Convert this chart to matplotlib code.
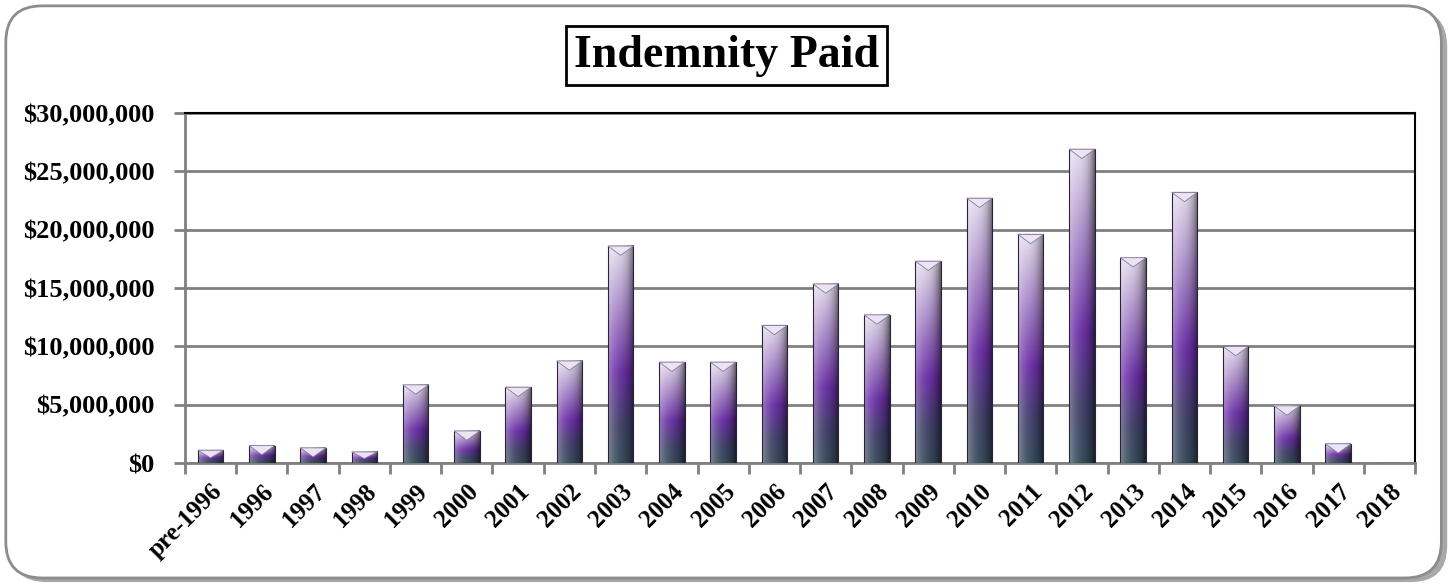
import numpy as np
import matplotlib
matplotlib.use("Agg")
import matplotlib.pyplot as plt
from matplotlib.colors import LinearSegmentedColormap
from matplotlib.patches import FancyBboxPatch, Polygon
from matplotlib.ticker import FuncFormatter, MultipleLocator

# ── data ───────────────────────────────────────────────────────────
years = ["pre-1996", "1996", "1997", "1998", "1999", "2000", "2001", "2002",
         "2003", "2004", "2005", "2006", "2007", "2008", "2009", "2010",
         "2011", "2012", "2013", "2014", "2015", "2016", "2017", "2018"]
paid_millions = [1.1, 1.5, 1.3, 0.95, 6.7, 2.75, 6.5, 8.75,
                 18.6, 8.65, 8.65, 11.8, 15.35, 12.7, 17.3, 22.7,
                 19.6, 26.9, 17.6, 23.2, 10.0, 4.9, 1.65, 0.0]
paid = [v * 1e6 for v in paid_millions]

plt.rcParams["font.family"] = ["Liberation Serif", "DejaVu Serif"]

fig = plt.figure(figsize=(14.53, 5.85), dpi=100)

# ── outer rounded frame with shadow ───────────────────────────────
shadow = FancyBboxPatch((0.007, 0.005), 0.989, 0.978,
                        boxstyle="round,pad=0,rounding_size=0.025",
                        transform=fig.transFigure, fc="#a8a8a8", ec="none",
                        mutation_aspect=1453 / 585, zorder=-3)
frame = FancyBboxPatch((0.004, 0.012), 0.988, 0.978,
                       boxstyle="round,pad=0,rounding_size=0.025",
                       transform=fig.transFigure, fc="white", ec="#8c8c8c",
                       lw=2.0, mutation_aspect=1453 / 585, zorder=-2)
fig.patches.extend([shadow, frame])

ax = fig.add_axes([0.1273, 0.2085, 0.8466, 0.5983])
ax.set_facecolor("none")

x = np.arange(len(years))
width = 0.5
bars = ax.bar(x, paid, width=width, color="none", edgecolor="#2b2438",
              linewidth=0.8, zorder=4)

# gradient fill for each bar
cmap = LinearSegmentedColormap.from_list(
    "bar", [(0.0, "#34495a"), (0.18, "#3f3f68"), (0.42, "#6a2da6"),
            (0.65, "#9a74c0"), (1.0, "#e6dfee")])
ny, nx = 200, 40
v = np.linspace(0, 1, ny)[:, None]
s = np.linspace(0, 1, nx)[None, :]
base = cmap(v)[..., :3] * np.ones((ny, nx, 1))
light = (1 - base) * 0.35 * ((1 - s) ** 3)[..., None]
dark = base * 0.55 * (s ** 4)[..., None]
grad = np.clip(base + light - dark, 0, 1)

tri_depth = 0.8e6
for b in bars:
    h = b.get_height()
    if h <= 0:
        continue
    x0, w = b.get_x(), b.get_width()
    ax.imshow(grad, extent=[x0, x0 + w, 0, h], origin="lower",
              aspect="auto", zorder=3, interpolation="bilinear")
    d = min(tri_depth, h * 0.6)
    tri = Polygon([(x0, h), (x0 + w, h), (x0 + w / 2, h - d)],
                  closed=True, fc="#ebe4f3", ec="#8a7aa0", lw=0.6, zorder=4)
    ax.add_patch(tri)

ax.set_xlim(-0.5, len(years) - 0.5)
ax.set_ylim(0, 30e6)

# gridlines and spines
ax.yaxis.set_major_locator(MultipleLocator(5e6))
ax.yaxis.set_major_formatter(FuncFormatter(lambda v, p: f"${v:,.0f}"))
ax.grid(axis="y", color="#808080", linewidth=2, zorder=1)
ax.set_axisbelow(True)
for side in ("left", "bottom"):
    ax.spines[side].set_color("#808080")
    ax.spines[side].set_linewidth(2)
for side in ("top", "right"):
    ax.spines[side].set_color("black")
    ax.spines[side].set_linewidth(1.5)

ax.set_xticks(x)
ax.set_xticklabels(years, rotation=45, ha="right", rotation_mode="anchor",
                   fontsize=18, fontweight="bold")
ax.tick_params(axis="x", which="major", length=0, pad=12)
ax.set_xticks(np.arange(-0.5, len(years), 1), minor=True)
ax.tick_params(axis="x", which="minor", length=8, width=2, color="#808080",
               direction="out")
ax.tick_params(axis="y", length=8, width=2, color="#808080", labelsize=19,
               pad=14)
for lbl in ax.get_yticklabels():
    lbl.set_fontweight("bold")

fig.text(0.5, 0.905, "Indemnity Paid", ha="center", va="center",
         fontsize=33, fontweight="bold",
         bbox=dict(boxstyle="square,pad=0.18", fc="white", ec="black", lw=2))

fig.savefig("out.png", dpi=100)
